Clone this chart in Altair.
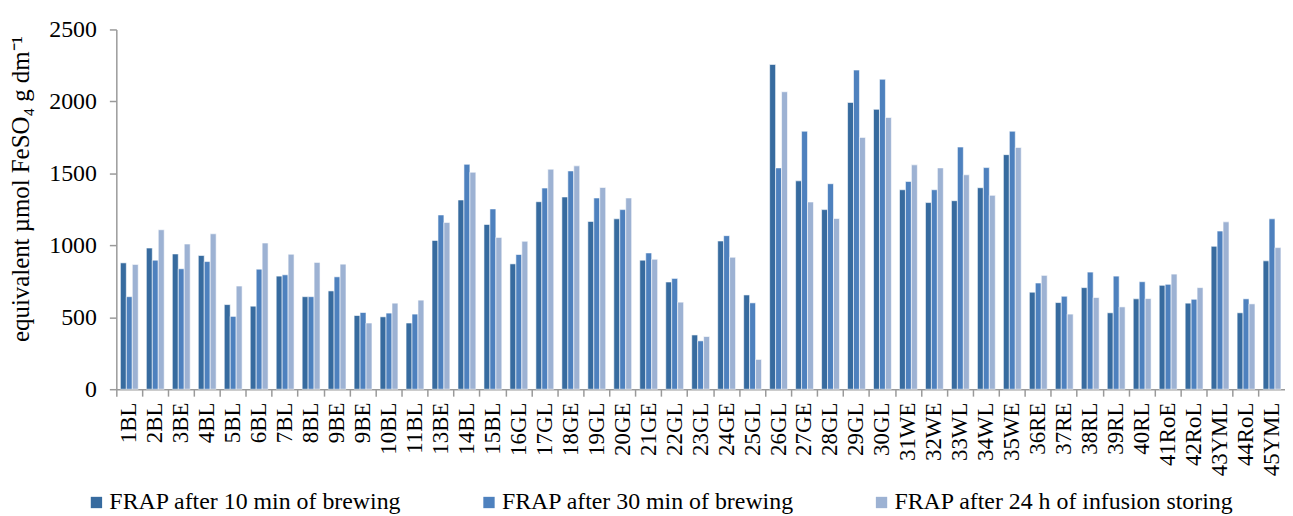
import altair as alt
import pandas as pd

labels = ["1BL", "2BL", "3BE", "4BL", "5BL", "6BL", "7BL", "8BL", "9BE", "9BE",
          "10BL", "11BL", "13BE", "14BL", "15BL", "16GL", "17GL", "18GE", "19GL",
          "20GE", "21GE", "22GL", "23GL", "24GE", "25GL", "26GL", "27GE", "28GL",
          "29GL", "30GL", "31WE", "32WE", "33WL", "34WL", "35WE", "36RE", "37RE",
          "38RL", "39RL", "40RL", "41RoE", "42RoL", "43YML", "44RoL", "45YML"]

frap_10 = [878, 981, 940, 929, 588, 577, 786, 643, 683, 512, 503, 460, 1034, 1315,
           1145, 871, 1303, 1336, 1166, 1184, 897, 745, 377, 1030, 655, 2257, 1448,
           1248, 1993, 1945, 1386, 1297, 1310, 1400, 1630, 674, 602, 706, 531, 628,
           722, 598, 993, 531, 892]
frap_30 = [643, 897, 837, 887, 506, 834, 795, 643, 781, 533, 529, 522, 1211, 1563,
           1253, 936, 1398, 1517, 1329, 1248, 947, 770, 336, 1067, 600, 1538, 1793,
           1428, 2218, 2154, 1444, 1386, 1683, 1540, 1793, 738, 646, 814, 786, 747,
           729, 625, 1099, 628, 1184]
frap_24h = [867, 1108, 1009, 1080, 717, 1016, 938, 881, 869, 460, 598, 619, 1159,
            1508, 1055, 1028, 1529, 1552, 1402, 1329, 903, 605, 366, 917, 207, 2067,
            1301, 1186, 1750, 1888, 1559, 1538, 1490, 1347, 1680, 791, 522, 637, 572,
            630, 800, 706, 1163, 593, 984]

series_names = ["FRAP after 10 min of brewing",
                "FRAP after 30 min of brewing",
                "FRAP after 24 h of infusion storing"]
series_colors = ["#376B9F", "#4E81BE", "#9DB2D3"]

rows = []
for name, vals in zip(series_names, [frap_10, frap_30, frap_24h]):
    for i, v in enumerate(vals):
        rows.append({"idx": i, "series": name, "value": v})
df = pd.DataFrame(rows)

label_expr = "[" + ",".join("'" + l + "'" for l in labels) + "][datum.value]"
FONT = "Liberation Serif"

chart = alt.Chart(df).mark_bar(stroke="white", strokeWidth=0.6).encode(
    x=alt.X("idx:O",
            scale=alt.Scale(paddingInner=0, paddingOuter=0),
            axis=alt.Axis(title=None, labelExpr=label_expr, labelAngle=-90,
                          labelAlign="right", labelBaseline="middle",
                          labelFont=FONT, labelFontSize=23, labelColor="black",
                          labelPadding=6, bandPosition=0, tickSize=7,
                          tickColor="#9a9a9a", domainColor="#9a9a9a",
                          domainWidth=1.5, tickWidth=1.5)),
    xOffset=alt.XOffset("series:N",
                        scale=alt.Scale(domain=series_names, paddingInner=0,
                                        paddingOuter=0.68)),
    y=alt.Y("value:Q",
            scale=alt.Scale(domain=[0, 2500]),
            axis=alt.Axis(title="equivalent µmol FeSO₄ g dm⁻¹",
                          values=[0, 500, 1000, 1500, 2000, 2500], format="d",
                          grid=False, labelFont=FONT, labelFontSize=24,
                          labelColor="black", labelPadding=13, tickSize=7,
                          tickColor="#9a9a9a", domainColor="#9a9a9a",
                          domainWidth=1.5, tickWidth=1.5,
                          titleFont=FONT, titleFontSize=25,
                          titleFontWeight="normal", titleColor="black",
                          titleAngle=-90, titleAlign="center",
                          titleBaseline="middle", titleX=-96, titleY=160)),
    color=alt.Color("series:N",
                    scale=alt.Scale(domain=series_names, range=series_colors),
                    legend=alt.Legend(title=None, orient="none", legendX=-32,
                                      legendY=464, direction="horizontal",
                                      symbolType="square", symbolSize=130,
                                      symbolStrokeWidth=0, labelFont=FONT,
                                      labelFontSize=24, labelColor="black",
                                      labelOffset=1, columnPadding=76,
                                      labelLimit=600)),
).properties(
    width=1176,
    height=362,
    autosize="none",
    padding={"left": 109, "top": 20, "right": 0, "bottom": 126},
).configure_view(stroke=None)

chart.save("out.html", embed_options={"renderer": "svg", "actions": False})
